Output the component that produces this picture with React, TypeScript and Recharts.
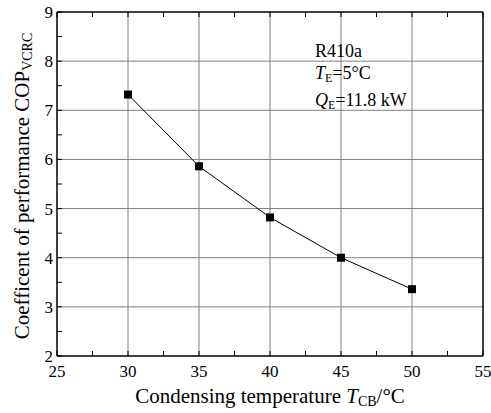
import React from 'react';
import { LineChart, Line, XAxis, YAxis, ReferenceLine } from 'recharts';

const temps = [30, 35, 40, 45, 50];
const cop = [7.32, 5.86, 4.82, 4.0, 3.36];

const xTicks = [25, 27.5, 30, 32.5, 35, 37.5, 40, 42.5, 45, 47.5, 50, 52.5, 55];
const yTicks = [2, 2.5, 3, 3.5, 4, 4.5, 5, 5.5, 6, 6.5, 7, 7.5, 8, 8.5, 9];
const xGrid = [30, 35, 40, 45, 50];
const yGrid = [3, 4, 5, 6, 7, 8];

const data = temps.map((t, i) => ({ t, cop: cop[i] }));

const FONT = '"Liberation Serif", "Times New Roman", serif';
const TICK = 5;

const isMajor = (v: number) => Number.isInteger(v);
const isMajorX = (v: number) => v % 5 === 0;

const BottomTick = (props: any) => {
  const { x, y, payload } = props;
  const v = payload.value;
  return (
    <g>
      <line x1={x} x2={x} y1={y} y2={y - TICK} stroke="#000" strokeWidth={1} />
      {isMajorX(v) && (
        <text x={x} y={y + 21} textAnchor="middle" fontSize={17} fontFamily={FONT} fill="#000">
          {v}
        </text>
      )}
    </g>
  );
};

const TopTick = (props: any) => {
  const { x, y } = props;
  return <line x1={x} x2={x} y1={y} y2={y + TICK} stroke="#000" strokeWidth={1} />;
};

const LeftTick = (props: any) => {
  const { x, y, payload } = props;
  const v = payload.value;
  return (
    <g>
      <line x1={x} x2={x + TICK} y1={y} y2={y} stroke="#000" strokeWidth={1} />
      {isMajor(v) && (
        <text x={x - 4} y={y + 6} textAnchor="end" fontSize={17} fontFamily={FONT} fill="#000">
          {v}
        </text>
      )}
    </g>
  );
};

const RightTick = (props: any) => {
  const { x, y } = props;
  return <line x1={x} x2={x - TICK} y1={y} y2={y} stroke="#000" strokeWidth={1} />;
};

const SquareDot = (props: any) => {
  const { cx, cy } = props;
  return <rect x={cx - 4} y={cy - 4} width={8} height={8} fill="#000" />;
};

const XTitle = (props: any) => {
  const vb = props.viewBox;
  return (
    <text x={vb.x + vb.width / 2} y={vb.y + 47} textAnchor="middle" fontSize={21} fontFamily={FONT} fill="#000">
      Condensing temperature <tspan fontStyle="italic">T</tspan>
      <tspan fontSize={14} dy={3}>CB</tspan>
      <tspan dy={-3}>/°C</tspan>
    </text>
  );
};

const YTitle = (props: any) => {
  const vb = props.viewBox;
  const cx = 29;
  const cy = vb.y + vb.height / 2 + 2;
  return (
    <text
      x={cx}
      y={cy}
      transform={`rotate(-90, ${cx}, ${cy})`}
      textAnchor="middle"
      fontSize={21}
      fontFamily={FONT}
      fill="#000"
    >
      Coefficent of performance COP
      <tspan fontSize={14} dy={3}>VCRC</tspan>
    </text>
  );
};

export default function App() {
  return (
    <div style={{ position: 'absolute', left: 0, top: 0, width: 491, height: 413, background: '#fff' }}>
      <LineChart width={491} height={413} data={data} margin={{ top: 0, right: 0, bottom: 0, left: 0 }}>
        <XAxis
          xAxisId="b"
          dataKey="t"
          type="number"
          domain={[25, 55]}
          ticks={xTicks}
          interval={0}
          height={57}
          tickSize={0}
          tickMargin={0}
          tick={<BottomTick />}
          axisLine={{ stroke: '#000', strokeWidth: 1.5 }}
          label={<XTitle />}
        />
        <XAxis
          xAxisId="t"
          orientation="top"
          type="number"
          dataKey="t"
          domain={[25, 55]}
          ticks={xTicks}
          interval={0}
          height={12}
          tickSize={0}
          tickMargin={0}
          tick={<TopTick />}
          axisLine={{ stroke: '#000', strokeWidth: 1.5 }}
        />
        <YAxis
          yAxisId="l"
          type="number"
          domain={[2, 9]}
          ticks={yTicks}
          interval={0}
          width={57}
          tickSize={0}
          tickMargin={0}
          tick={<LeftTick />}
          axisLine={{ stroke: '#000', strokeWidth: 1.5 }}
          label={<YTitle />}
        />
        <YAxis
          yAxisId="r"
          orientation="right"
          type="number"
          domain={[2, 9]}
          ticks={yTicks}
          interval={0}
          width={8}
          tickSize={0}
          tickMargin={0}
          tick={<RightTick />}
          axisLine={{ stroke: '#000', strokeWidth: 1.5 }}
        />
        {xGrid.map((v) => (
          <ReferenceLine key={`x${v}`} x={v} xAxisId="b" yAxisId="l" stroke="#808080" strokeWidth={1} />
        ))}
        {yGrid.map((v) => (
          <ReferenceLine key={`y${v}`} y={v} xAxisId="b" yAxisId="l" stroke="#808080" strokeWidth={1} />
        ))}
        <Line
          xAxisId="b"
          yAxisId="l"
          dataKey="cop"
          stroke="#000"
          strokeWidth={1}
          dot={<SquareDot />}
          activeDot={false}
          isAnimationActive={false}
        />
      </LineChart>
      <div
        style={{
          position: 'absolute',
          left: 315,
          top: 40,
          fontFamily: FONT,
          fontSize: 18,
          lineHeight: '22px',
          color: '#000',
          whiteSpace: 'nowrap',
        }}
      >
        <div>R410a</div>
        <div>
          <i>T</i>
          <span style={{ fontSize: 12, verticalAlign: -3 }}>E</span>=5°C
        </div>
        <div>
          <i>Q</i>
          <span style={{ fontSize: 12, verticalAlign: -3 }}>E</span>=11.8 kW
        </div>
      </div>
    </div>
  );
}
